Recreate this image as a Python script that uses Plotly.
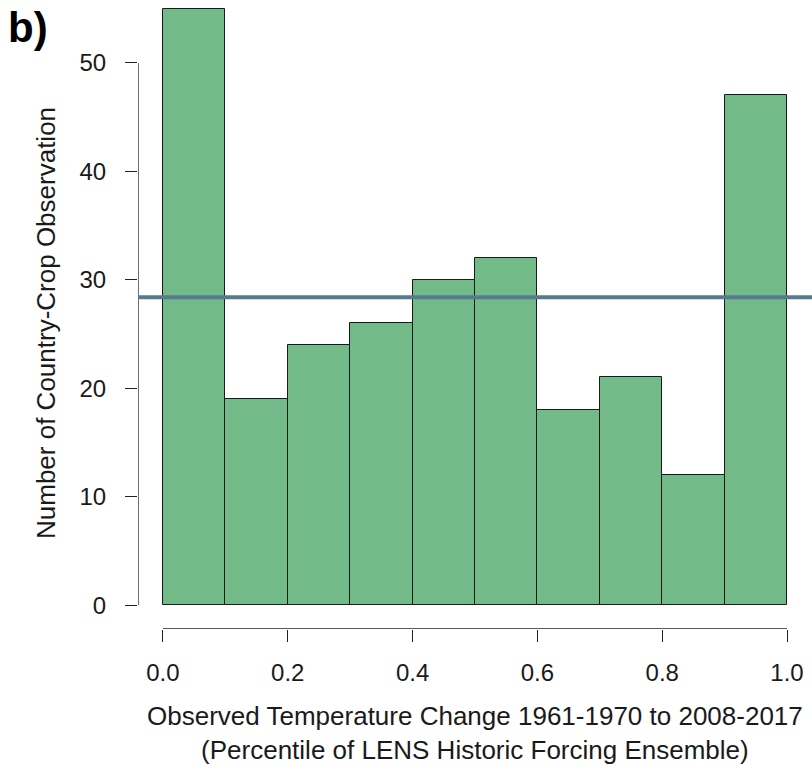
import plotly.graph_objects as go

bin_starts = [0.0, 0.1, 0.2, 0.3, 0.4, 0.5, 0.6, 0.7, 0.8, 0.9]
counts = [55, 19, 24, 26, 30, 32, 18, 21, 12, 47]
bin_width = 0.1
mean_line = 28.4
x_ticks = [0.0, 0.2, 0.4, 0.6, 0.8, 1.0]
x_tick_labels = ["0.0", "0.2", "0.4", "0.6", "0.8", "1.0"]
y_ticks = [0, 10, 20, 30, 40, 50]
y_tick_labels = ["0", "10", "20", "30", "40", "50"]

FONT = "Liberation Sans, Arial, sans-serif"
BAR = "#73ba89"
LINE = "#587a90"

fig = go.Figure()
fig.add_trace(go.Bar(
    x=[s + bin_width / 2 for s in bin_starts], y=counts, width=bin_width,
    marker=dict(color=BAR, line=dict(color="#1a1a1a", width=1)),
    showlegend=False, hoverinfo="skip"))

# R-style axis lines spanning only the tick range
fig.add_trace(go.Scatter(x=[x_ticks[0], x_ticks[-1]], y=[-2.2, -2.2], mode="lines",
                         line=dict(color="#222", width=1.3), cliponaxis=False,
                         showlegend=False, hoverinfo="skip"))
fig.add_trace(go.Scatter(x=[-0.04, -0.04], y=[y_ticks[0], y_ticks[-1]], mode="lines",
                         line=dict(color="#222", width=1.3), cliponaxis=False,
                         showlegend=False, hoverinfo="skip"))

fig.add_shape(type="line", xref="paper", x0=0, x1=1, yref="y", y0=mean_line, y1=mean_line,
              line=dict(color=LINE, width=4), layer="above")

fig.update_layout(
    width=812, height=776,
    margin=dict(l=138, r=0, t=0, b=147),
    paper_bgcolor="white", plot_bgcolor="white",
    bargap=0,
    font=dict(family=FONT, size=24, color="#1a1a1a"),
    xaxis=dict(range=[-0.04, 1.04], tickvals=x_ticks, ticktext=x_tick_labels,
               ticks="outside", ticklen=12, tickwidth=1.3, tickcolor="#222",
               showgrid=False, zeroline=False, showline=False,
               tickfont=dict(size=24), ticklabelstandoff=10),
    yaxis=dict(range=[-2.2, 55.8], tickvals=y_ticks, ticktext=y_tick_labels,
               ticks="outside", ticklen=12, tickwidth=1.3, tickcolor="#222",
               showgrid=False, zeroline=False, showline=False,
               tickfont=dict(size=24), ticklabelstandoff=14),
)

fig.add_annotation(xref="paper", yref="paper", x=0.5, y=0, yanchor="top", yshift=-70,
                   text="Observed Temperature Change 1961-1970 to 2008-2017<br>(Percentile of LENS Historic Forcing Ensemble)",
                   showarrow=False, font=dict(size=26), align="center")
fig.add_annotation(xref="paper", yref="paper", x=-0.1365, y=0.4865, textangle=-90,
                   xanchor="center", yanchor="middle",
                   text="Number of Country-Crop Observation", showarrow=False,
                   font=dict(size=26))
fig.add_annotation(xref="paper", yref="paper", x=-0.196, y=1.0, xanchor="left", yanchor="top",
                   yshift=-2, text="<b>b)</b>", showarrow=False,
                   font=dict(size=42, color="#000"))

fig.write_html("out.html")
